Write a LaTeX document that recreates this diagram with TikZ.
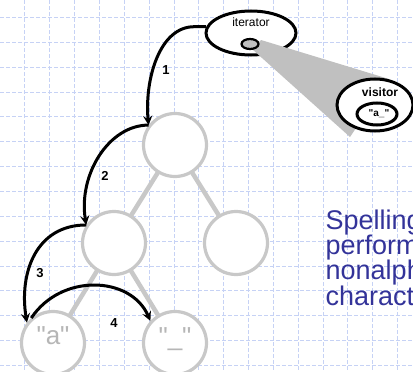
\documentclass[tikz,border=0pt]{standalone}
\usepackage{fontspec}
\newfontfamily\arial{Liberation Sans}
\usetikzlibrary{shapes.geometric}
\definecolor{gridblue}{RGB}{198,210,245}
\definecolor{treegray}{RGB}{200,200,200}
\definecolor{leafgray}{RGB}{182,182,182}
\definecolor{wedgegray}{RGB}{192,192,192}
\definecolor{slideblue}{RGB}{51,51,153}
\tikzset{
  gridline/.style={gridblue, line width=0.9pt, dash pattern=on 4pt off 2pt},
  treenode/.style={circle, draw=treegray, line width=3.2pt, fill=white, minimum size=63pt, inner sep=0pt},
  treeedge/.style={treegray, line width=4.5pt},
  leaftext/.style={leafgray, inner sep=0pt, font=\arial\fontsize{26}{26}\selectfont},
  blob/.style={ellipse, draw, line width=3pt, fill=white, inner sep=0pt},
  walk/.style={line width=3pt, -stealth},
  steplabel/.style={inner sep=0pt, font=\arial\bfseries\fontsize{13}{13}\selectfont},
}
\begin{document}
\begin{tikzpicture}[x=1pt, y=-1pt]
    \useasboundingbox (0,0) rectangle (413,372);
    \clip (0,0) rectangle (413,372);
    % paper grid
    \foreach \i in {1,...,16}
        \draw[gridline] ({\i*24.85},0) -- ({\i*24.85},372);
    \foreach \j in {0,...,14}
        \draw[gridline] (0,{17.5+\j*24.85}) -- (413,{17.5+\j*24.85});

    % the tree
    \coordinate (rootc) at (175,145);
    \draw[treeedge] (rootc) -- (114,243);
    \draw[treeedge] (rootc) -- (236,243);
    \draw[treeedge] (114,243) -- (53,343);
    \draw[treeedge] (114,243) -- (175,343);
    \node[treenode] (root) at (rootc) {};
    \node[treenode] (nleft) at (114,243) {};
    \node[treenode] (nright) at (236,243) {};
    \node[treenode] (leafa) at (53,343) {};
    \node[treenode] (leafu) at (175,343) {};
    \node[leaftext, anchor=base] (atext) at ([yshift=-1pt]leafa.center) {"a"};
    \node[leaftext, anchor=base] (utext) at ([yshift=-2pt]leafu.center) {"\_"};

    % iterator and its visitor
    \node[blob, minimum width=90pt, minimum height=44pt] (iter) at (251,33) {};
    \node[inner sep=0pt, font=\arial\fontsize{12}{12}\selectfont] (iterlabel) at (251,22) {iterator};
    \fill[wedgegray] (261,40) -- (389,79) -- (350,137) -- (252,49) -- cycle;
    \node[ellipse, draw, fill=wedgegray, line width=2.2pt, minimum width=17pt, minimum height=10pt, inner sep=0pt] (slot) at (250,44) {};
    \node[blob, minimum width=76pt, minimum height=52pt] (visitor) at (375,105) {};
    \node[inner sep=0pt, font=\arial\bfseries\fontsize{12}{12}\selectfont] (visitlabel) at (380,92) {visitor};
    \node[blob, minimum width=40pt, minimum height=22pt] (held) at (377,114) {};
    \node[inner sep=0pt, font=\arial\bfseries\fontsize{10}{10}\selectfont] (heldtext) at (379,114) {"a\_"};

    % traversal steps
    \draw[walk] (iter.172) -- ++(-12,0) .. controls +(-35,0) and +(-4,-45) .. (root.143);
    \draw[walk] (root.143) .. controls +(-40,0) and +(-8,-50) .. (nleft.147);
    \draw[walk] (nleft.147) .. controls +(-50,0) and +(-8,-50) .. (leafa.142);
    \draw[walk] (leafa.131) .. controls +(30,-45) and +(-20,-45) .. (leafu.138);
    \node[steplabel] (lab1) at (166,70) {1};
    \node[steplabel] (lab2) at (105,176) {2};
    \node[steplabel] (lab3) at (40,273) {3};
    \node[steplabel] (lab4) at (114,323) {4};

    \node[anchor=north west, inner sep=0pt, align=left, text=slideblue,
          font=\arial\fontsize{27}{25.3}\selectfont] (note) at (325.5,209.5)
          {Spelling\\performed on\\nonalphabetic\\characters};
\end{tikzpicture}
\end{document}
